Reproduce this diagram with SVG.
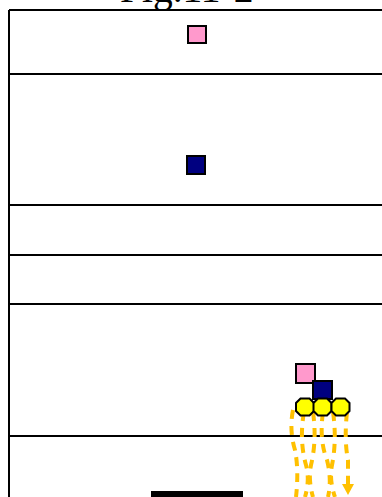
<svg xmlns="http://www.w3.org/2000/svg" width="382" height="497" viewBox="0 0 382 497">
<style>
.ln{stroke:#000;stroke-width:2;fill:none}
.pink{fill:#FF99CC;stroke:#000;stroke-width:2}
.navy{fill:#000080;stroke:#000;stroke-width:2}
.yel{fill:#FFFF00;stroke:#000;stroke-width:2}
.flow{stroke:#FFC000;stroke-width:4;fill:none;stroke-dasharray:9 7;stroke-linecap:butt}
</style>
<defs>
<polygon id="oct" points="-4.5,-8.5 4.5,-8.5 9,-4 9,4 4.5,8.5 -4.5,8.5 -9,4 -9,-4"/>
</defs>
<rect width="382" height="497" fill="#ffffff"/>
<text x="120" y="1.5" font-family="Liberation Serif, serif" font-size="39.5" fill="#000">Fig.11-2</text>
<g id="frame">
<line class="ln" x1="9" y1="10" x2="9" y2="497"/>
<line class="ln" x1="9" y1="10" x2="382" y2="10"/>
<line class="ln" x1="9" y1="74" x2="382" y2="74"/>
<line class="ln" x1="9" y1="205" x2="382" y2="205"/>
<line class="ln" x1="9" y1="255" x2="382" y2="255"/>
<line class="ln" x1="9" y1="304" x2="382" y2="304"/>
<line class="ln" x1="9" y1="436" x2="382" y2="436"/>
</g>
<g id="node-pink-top"><rect class="pink" x="188" y="26" width="18" height="17"/></g>
<g id="node-navy-top"><rect class="navy" x="187" y="156" width="18" height="18"/></g>
<g id="connectors">
<path class="flow" d="M293,410 Q289,430 295,450 Q299,470 296,497"/>
<path class="flow" d="M304,412 Q299,440 306,465 Q310,480 305,497"/>
<path class="flow" d="M313,412 Q317,440 311,465 Q308,480 313,497"/>
<path class="flow" d="M323,412 Q319,440 327,460 Q332,480 328,497"/>
<path class="flow" d="M333,412 Q337,440 332,465 Q329,480 335,497"/>
<path class="flow" d="M347,412 Q344,440 348,460 L348,484"/>
<polygon points="342,484 354,484 348,495" fill="#FFC000"/>
</g>
<g id="node-pink-small"><rect class="pink" x="296" y="364" width="19" height="19"/></g>
<g id="node-navy-small"><rect class="navy" x="313" y="381" width="19" height="18"/></g>
<g id="node-yellow-1"><use href="#oct" class="yel" x="305" y="407"/></g>
<g id="node-yellow-2"><use href="#oct" class="yel" x="322.5" y="407"/></g>
<g id="node-yellow-3"><use href="#oct" class="yel" x="340.5" y="407"/></g>
<g id="bar"><rect x="151" y="491" width="92" height="6" fill="#000"/></g>
</svg>
